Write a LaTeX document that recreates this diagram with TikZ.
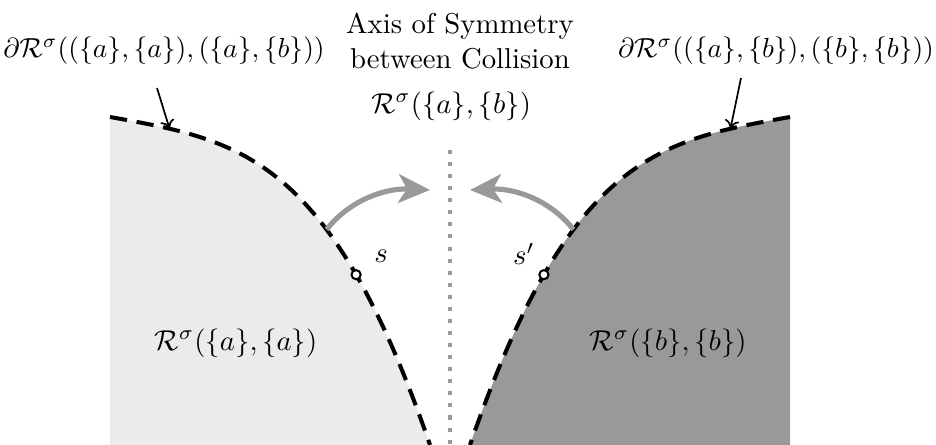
\documentclass[tikz,border=0pt]{standalone}
\usetikzlibrary{arrows.meta}
\definecolor{lightreg}{HTML}{EBEBEB}
\definecolor{darkreg}{HTML}{999999}
\definecolor{arrowgray}{HTML}{999999}
\begin{document}
\begin{tikzpicture}[x=0.348pt,y=-0.348pt,
  boundary/.style={line width=1.4pt, dash pattern=on 6pt off 3.4pt},
  axisline/.style={arrowgray, line width=1.4pt, dash pattern=on 1.4pt off 2.8pt},
  flowarrow/.style={arrowgray, line width=1.8pt, -{Stealth[length=11pt,width=10pt,inset=3pt]}},
  pointer/.style={line width=0.6pt, -{To[length=3pt,width=5pt]}},
  pt/.style={circle, draw, fill=white, line width=0.7pt, inner sep=0pt, minimum size=3.2pt},
  lbl/.style={inner sep=0pt},
  bdlbl/.style={inner sep=0pt, scale=0.96}]
\useasboundingbox (0,0) rectangle (936,445);
% regions
\fill[lightreg] (110,117) .. controls (240,140.4) and (330,155) .. (430,445) -- (110,445) -- cycle;
\fill[darkreg] (790,117) .. controls (660,140.4) and (570,155) .. (470,445) -- (790,445) -- cycle;
% boundaries
\draw[boundary] (110,117) .. controls (240,140.4) and (330,155) .. (430,445)
  coordinate[pos=0.16] (bl) coordinate[pos=0.65] (al) coordinate[pos=0.75] (sl);
\draw[boundary] (790,117) .. controls (660,140.4) and (570,155) .. (470,445)
  coordinate[pos=0.16] (br) coordinate[pos=0.65] (ar) coordinate[pos=0.75] (sr);
% axis
\coordinate (axtop) at (450,150);
\coordinate (axbot) at (450,445);
\draw[axisline] (axtop) -- (axbot);
% labels
\node[lbl] (axis) at (460,41) [align=center] {Axis of Symmetry\\between Collision};
\node[bdlbl] (bdl) at (164,51) {$\partial\mathcal{R}^\sigma((\{a\},\{a\}),(\{a\},\{b\}))$};
\node[bdlbl] (bdr) at (776,51) {$\partial\mathcal{R}^\sigma((\{a\},\{b\}),(\{b\},\{b\}))$};
\node[lbl] (mid) at (451,106) {$\mathcal{R}^\sigma(\{a\},\{b\})$};
\node[lbl] (rl) at (236,343) {$\mathcal{R}^\sigma(\{a\},\{a\})$};
\node[lbl] (rr) at (668,343) {$\mathcal{R}^\sigma(\{b\},\{b\})$};
\node[lbl] (s) at (381,256) {$s$};
\node[lbl] (sp) at (524,254) {$s'$};
% pointer arrows
\coordinate (pl) at (157,88);
\coordinate (pr) at (741,78);
\draw[pointer] (pl) -- (bl);
\draw[pointer] (pr) -- (br);
% flow arrows
\coordinate (tl) at (430,190);
\coordinate (tr) at (470,190);
\draw[flowarrow] (al) .. controls (350,200) and (385,188) .. (tl);
\draw[flowarrow] (ar) .. controls (550,200) and (515,188) .. (tr);
% points
\node[pt] (ptl) at (sl) {};
\node[pt] (ptr) at (sr) {};
\end{tikzpicture}
\end{document}
